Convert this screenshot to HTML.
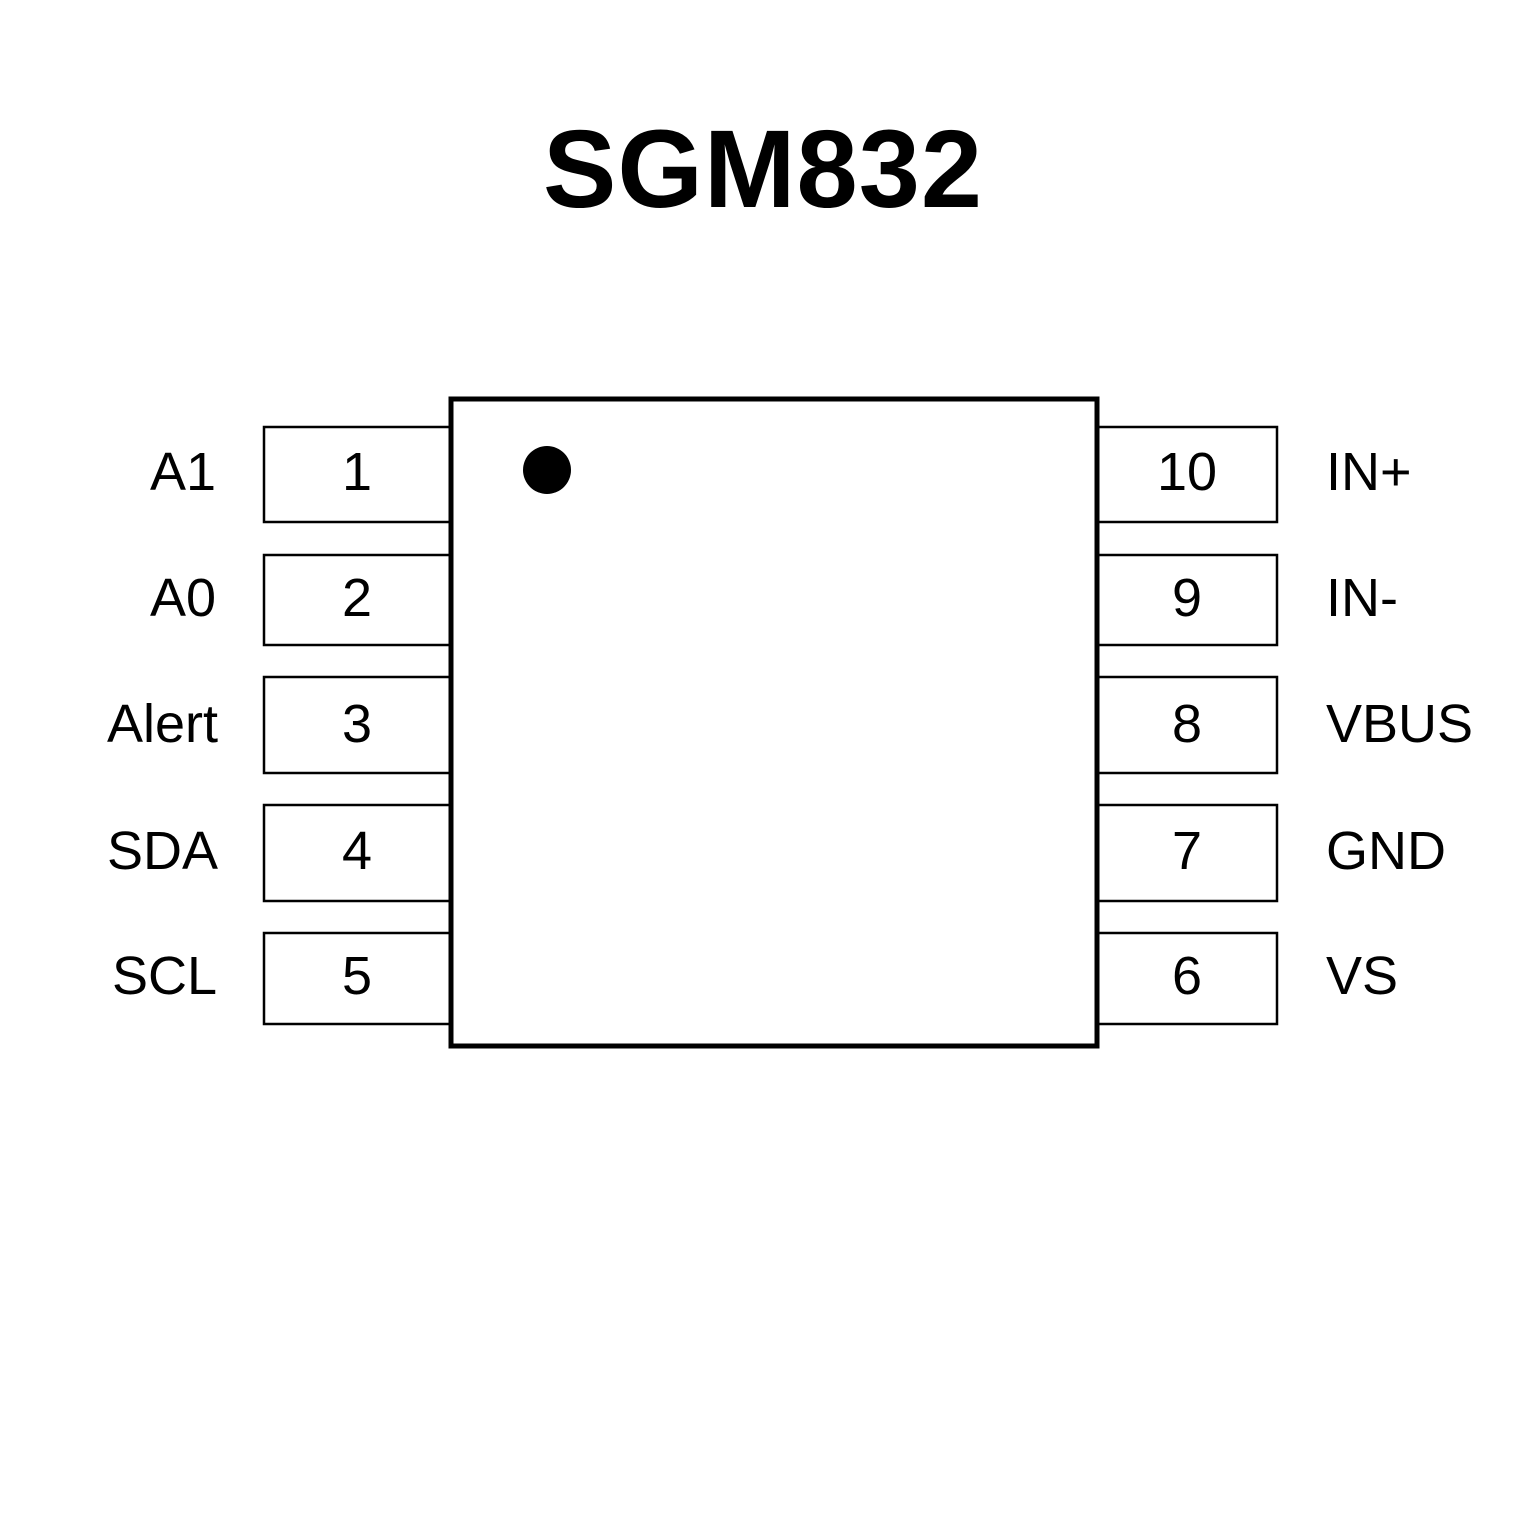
<!DOCTYPE html>
<html><head><meta charset="utf-8"><style>html,body{margin:0;padding:0;background:#fff}svg{display:block}</style></head>
<body>
<svg width="1535" height="1535" viewBox="0 0 1535 1535" xmlns="http://www.w3.org/2000/svg">
<rect width="1535" height="1535" fill="#fff"/>
<text x="763" y="207" text-anchor="middle" font-family="Liberation Sans, sans-serif" font-weight="bold" font-size="110" letter-spacing="1" fill="#000">SGM832</text>
<g fill="#fff" stroke="#000" stroke-width="2.5">
<rect x="264" y="427" width="186" height="95"/>
<rect x="264" y="555" width="186" height="90"/>
<rect x="264" y="677" width="186" height="96"/>
<rect x="264" y="805" width="186" height="96"/>
<rect x="264" y="933" width="186" height="91"/>
<rect x="1097" y="427" width="180" height="95"/>
<rect x="1097" y="555" width="180" height="90"/>
<rect x="1097" y="677" width="180" height="96"/>
<rect x="1097" y="805" width="180" height="96"/>
<rect x="1097" y="933" width="180" height="91"/>
</g>
<rect x="451" y="399" width="646" height="647" fill="#fff" stroke="#000" stroke-width="5"/>
<circle cx="547" cy="470" r="24" fill="#000"/>
<g font-family="Liberation Sans, sans-serif" font-size="54" fill="#000">
<g text-anchor="middle">
<text x="357" y="490">1</text><text x="357" y="616">2</text><text x="357" y="742">3</text><text x="357" y="869">4</text><text x="357" y="994">5</text>
<text x="1187" y="490">10</text><text x="1187" y="616">9</text><text x="1187" y="742">8</text><text x="1187" y="869">7</text><text x="1187" y="994">6</text>
</g>
<g text-anchor="end">
<text x="216" y="490">A1</text><text x="216" y="616">A0</text><text x="218" y="742">Alert</text><text x="218" y="869">SDA</text><text x="217" y="994">SCL</text>
</g>
<text x="1326" y="490">IN+</text><text x="1326" y="616">IN-</text><text x="1326" y="742">VBUS</text><text x="1326" y="869">GND</text><text x="1326" y="994">VS</text>
</g>
</svg>
</body></html>
